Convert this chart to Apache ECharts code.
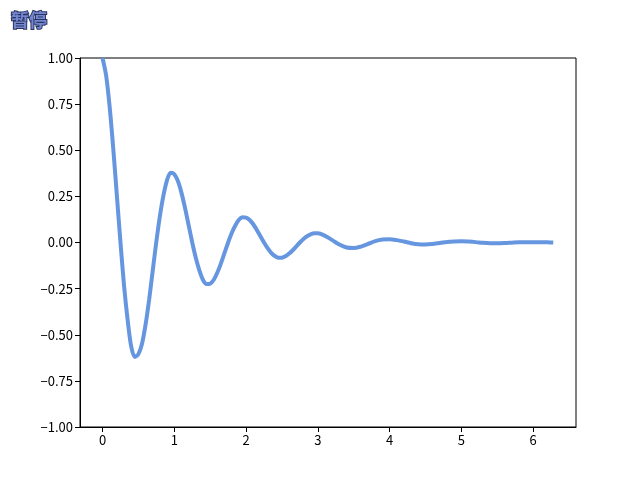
<!DOCTYPE html>
<html>
<head>
<meta charset="utf-8">
<script src="https://cdn.jsdelivr.net/npm/echarts@6/dist/echarts.min.js"></script>
<style>
  html, body { margin: 0; padding: 0; background: #fff; }
  #chart { width: 640px; height: 480px; }
</style>
</head>
<body>
<div id="chart"></div>
<script>
// 衰减振荡曲线
const tValues = [
  0.00, 0.05, 0.10, 0.15, 0.20, 0.25, 0.30, 0.35, 0.40, 0.45,
  0.50, 0.55, 0.60, 0.65, 0.70, 0.75, 0.80, 0.85, 0.90, 0.95,
  1.00, 1.05, 1.10, 1.15, 1.20, 1.25, 1.30, 1.35, 1.40, 1.45,
  1.50, 1.55, 1.60, 1.65, 1.70, 1.75, 1.80, 1.85, 1.90, 1.95,
  2.00, 2.05, 2.10, 2.15, 2.20, 2.25, 2.30, 2.35, 2.40, 2.45,
  2.50, 2.55, 2.60, 2.65, 2.70, 2.75, 2.80, 2.85, 2.90, 2.95,
  3.0, 3.1, 3.2, 3.3, 3.4, 3.5, 3.6, 3.7, 3.8, 3.9,
  4.0, 4.1, 4.2, 4.3, 4.4, 4.5, 4.6, 4.7, 4.8, 4.9,
  5.0, 5.1, 5.2, 5.3, 5.4, 5.5, 5.6, 5.7, 5.8, 5.9,
  6.0, 6.1, 6.2, 6.28
];
const yValues = [
  1.000, 0.905, 0.732, 0.506, 0.253, 0.000, -0.235, -0.420, -0.565, -0.620,
  -0.605, -0.549, -0.444, -0.307, -0.150, 0.005, 0.145, 0.258, 0.340, 0.378,
  0.370, 0.333, 0.269, 0.186, 0.093, 0.000, -0.084, -0.152, -0.203, -0.225,
  -0.223, -0.202, -0.163, -0.113, -0.056, 0.000, 0.051, 0.092, 0.123, 0.137,
  0.135, 0.122, 0.099, 0.068, 0.034, 0.000, -0.031, -0.056, -0.073, -0.082,
  -0.082, -0.074, -0.060, -0.042, -0.021, 0.000, 0.019, 0.034, 0.044, 0.050,
  0.050, 0.036, 0.013, -0.011, -0.027, -0.030, -0.022, -0.008, 0.007, 0.016,
  0.018, 0.013, 0.005, -0.004, -0.010, -0.011, -0.008, -0.003, 0.003, 0.006,
  0.007, 0.005, 0.002, -0.002, -0.004, -0.004, -0.003, -0.001, 0.001, 0.002,
  0.002, 0.002, 0.001, 0.000
];
const xTicks = [0, 1, 2, 3, 4, 5, 6];
const yTicks = [-1.0, -0.75, -0.5, -0.25, 0.0, 0.25, 0.5, 0.75, 1.0];
const titleText = '暂停';

const points = tValues.map((t, i) => [t, yValues[i]]);

const font = '"Noto Sans CJK SC", "DejaVu Sans", sans-serif';
const myChart = echarts.init(document.getElementById('chart'), null, { renderer: 'canvas' });

const option = {
  animation: false,
  backgroundColor: '#fff',
  title: {
    text: titleText,
    left: 6,
    top: 6,
    textStyle: {
      fontFamily: font,
      fontSize: 18,
      fontWeight: 'bold',
      color: '#7287cf',
      textBorderColor: '#2b3460',
      textBorderWidth: 2,
    },
  },
  grid: {
    left: 80,
    right: 64,
    top: 58,
    bottom: 53,
    show: true,
    borderColor: '#000',
    borderWidth: 1,
    backgroundColor: 'transparent',
  },
  xAxis: {
    type: 'value',
    min: -0.314,
    max: 6.597,
    splitLine: { show: false },
    axisLine: { show: true, onZero: false, lineStyle: { color: '#000', width: 1 } },
    axisTick: { show: true, inside: false, length: 5, customValues: xTicks, lineStyle: { color: '#000' } },
    axisLabel: {
      customValues: xTicks,
      margin: 7,
      color: '#000',
      fontFamily: font,
      fontSize: 13,
    },
  },
  yAxis: {
    type: 'value',
    min: -1,
    max: 1,
    interval: 0.25,
    splitLine: { show: false },
    axisLine: { show: true, onZero: false, lineStyle: { color: '#000', width: 1 } },
    axisTick: { show: true, inside: false, length: 5, customValues: yTicks, lineStyle: { color: '#000' } },
    axisLabel: {
      customValues: yTicks,
      margin: 7,
      color: '#000',
      fontFamily: font,
      fontSize: 13,
      // matplotlib 风格的负号
      formatter: v => (v < 0 ? '\u2212' : '') + Math.abs(v).toFixed(2),
    },
  },
  series: [
    {
      type: 'line',
      data: points,
      smooth: 0.3,
      symbol: 'none',
      lineStyle: { color: '#6596df', width: 4 },
      clip: true,
    },
  ],
};

myChart.setOption(option);
</script>
</body>
</html>
